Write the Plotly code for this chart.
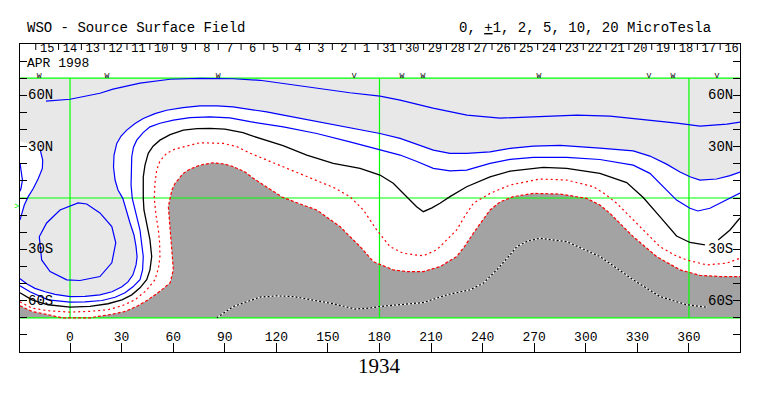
import plotly.graph_objects as go

# ---------------- data (Carrington longitude, latitude in degrees) ----------------
# +5 contour (top blue line)
pos5_lon = [-14.0, 0, 17.4, 25.0, 40.7, 58.2, 75.6, 94.8, 110.5, 126.2, 143.7, 162.8, 180.3, 192.0,
            211.1, 230.9, 250.1, 275.1, 294.9, 314.1, 337.3, 353.0, 366.4, 382.1, 389.7]
pos5_lat = [56.6, 57.7, 61.2, 63.6, 67.1, 69.4, 69.9, 69.7, 68.8, 66.5, 64.2, 61.5, 59.5, 57.2,
            52.5, 48.4, 46.7, 47.8, 48.4, 47.8, 45.5, 43.7, 42.0, 43.2, 44.3]

# +2 contour (outer blue, edge of light-grey region)
pos2_lon = [-29.1, -25, -20.4, -14.5, -8.7, 0, 8.7, 17.4, 24.4, 30.2, 33.7, 36.6, 38.4, 39, 38.4,
            37.2, 34.9, 32.6, 30.7, 27.9, 26.2, 25.3, 25.6, 27.2, 29.7, 33, 37.8, 42.6, 49.4, 56.2,
            65.7, 75.6, 85.5, 94.8, 104.7, 114.4, 124.1, 133.8, 143.5, 153, 162.8, 171.6, 180.3, 192,
            201.8, 211.3, 221, 230.7, 244.3, 256, 269.5, 285, 308.2, 327.6, 337.3, 347, 354.8, 360.6,
            366.4, 376.1, 383.9, 389.7]
pos2_lat = [-47.2, -50.2, -52.8, -54.8, -56.3, -57.6, -57.5, -56.6, -54.8, -51.9, -49, -44.9, -39.1,
            -34.4, -28.4, -21.6, -14.6, -7, -0.2, 4.7, 10.5, 18.1, 25.1, 31.9, 36.2, 39.7, 43.5, 46.5,
            49.3, 51.3, 52.8, 53.8, 53.8, 53.3, 51.9, 50.3, 48.4, 46.5, 44.5, 42.6, 40.7, 39.1, 37.7,
            34.8, 31.5, 28, 26.1, 26.1, 27, 29, 30.3, 30.7, 29.2, 27.5, 24.5, 19.8, 15.2, 12.4, 10.5,
            11.1, 13.1, 15.2]

# +1 contour
pos1_lon = [-29.1, -23.3, -12.8, -5.8, 0, 8.7, 18.6, 26.2, 32, 36.6, 40.7, 42.2, 42.6, 41.6, 40.7,
            38.4, 36.2, 35.5, 35.5, 35.9, 36.9, 38.8, 42.5, 46.5, 52.3, 60.1, 69.8, 81.4, 93, 104.7,
            124.1, 143.5, 162.8, 180.3, 192, 201.8, 211.3, 221, 230.7, 244.3, 256, 269.5, 288.9, 308.2,
            327.6, 337.3, 343.1, 352.8, 360.6, 365.2, 372.2, 380.9, 389.7]
pos1_lat = [-51.3, -54.8, -59.5, -60.4, -60.8, -60.7, -59.9, -58, -55.4, -51.9, -47.8, -42, -34.2,
            -26.2, -18.7, -9.3, -0.2, 7.6, 16.3, 24.1, 29.7, 33.8, 38.2, 41.6, 43.7, 45.5, 47, 47.4,
            46.8, 44.6, 41.6, 37.7, 32.8, 28, 25.1, 21.3, 17.3, 15.9, 16.3, 20.2, 22.6, 23.7, 23.7,
            22.5, 19.2, 14.4, 8.7, -1.2, -6, -7.6, -6, -1.7, 2.9]

# closed positive contour (oval near 0 deg)
oval_lon = [-17.9, -16.5, -11.6, -1.9, 5.8, 17.4, 24.3, 26.6, 24.3, 17.4, 9.7, 4.7, -5.8, -13.6, -17.9]
oval_lat = [-22.6, -36.2, -43, -47.8, -48.2, -45.9, -37.9, -26.2, -16.7, -8.7, -3.5, -2.9, -7, -14.6, -22.6]

# small contours at the left edge
arc_lon = [-29.1, -28.1, -27.7, -28.5, -29.1]
arc_lat = [20.4, 14.4, 10.5, 5.7, 3.9]
edge_lon = [-17.4, -15.9, -16.1, -18.4, -21.3, -24.3, -26.6, -28.5, -29.1]
edge_lat = [28.4, 22.2, 17.3, 11.5, 5.7, 0.8, -4.1, -9.9, -12.8]
patch_top_lon = [-29.1, -23.3]
patch_top_lat = [33.2, 31.5]

# neutral line (0)
zero_lon = [-29.1, -22.1, -12.8, 0, 11.6, 22.1, 30.2, 35.9, 40.7, 44.6, 46.5, 47.5, 46.5, 44.6, 43,
            42.6, 42.6, 42.6, 43.6, 45.5, 48.3, 52.3, 58.2, 65.9, 73.9, 81.4, 90.1, 100.6, 104.7,
            113.4, 123.9, 137.7, 153.1, 168.7, 180.3, 188, 195.8, 201.6, 205.5, 210.5, 215.2, 221,
            230.7, 244.3, 256, 261.7, 275.3, 288.9, 308.2, 323.8, 333.4, 343.1, 352.8, 360.6, 369.3,
            None, 377, 383.9, 389.7]
zero_lat = [-55.4, -59.5, -62.4, -63.8, -63.3, -61.8, -59.5, -56.6, -52.5, -47.8, -42, -34.2, -24.5,
            -14.8, -7, -0.2, 7.6, 12.4, 19.2, 26.1, 30.3, 33.8, 37, 39.7, 40.5, 40.7, 40.2, 38.2,
            36.7, 33.8, 30.6, 25.1, 20.2, 17.3, 13.4, 8.6, 0.8, -5.1, -8, -5.8, -3.1, 0.8, 6.6, 12.4,
            15.7, 16.3, 17.9, 17.3, 14.4, 9, 0.3, -10.9, -22.2, -26, -27.4,
            None, -24.5, -18.7, -11.7]

# -1 contour
neg1_lon = [-29.1, -22.3, -12.8, 0, 11.6, 22.1, 30.2, 37.8, 44.2, 49.4, 51.5, 52.3, 52.1, 51.4, 50,
            49, 49.4, 50.4, 52.3, 56.2, 61.1, 65.9, 75.6, 89.2, 97.1, 104.7, 124.1, 143.5, 154.1,
            162.8, 170.6, 178.4, 186.1, 193.8, 205.5, 213.3, 218.7, 224.9, 229.7, 234.6, 244.3, 256,
            273.4, 288.9, 304.4, 311.2, 318, 331.5, 343.1, 351.9, 358.7, 370.3, 381.9, 389.7]
neg1_lat = [-60.7, -64.3, -65.9, -66.7, -66.2, -65.3, -63, -59.5, -54.2, -47.8, -40.8, -34.2, -26.2,
            -18.7, -9.9, -0.2, 8.7, 16.3, 21.6, 26.1, 28.6, 29.9, 32.3, 31.9, 30, 26.2, 18.3, 10.5,
            5.8, 0.8, -7, -18.7, -28.4, -32.3, -33.8, -30.3, -25.1, -18.7, -10.5, -3.1, 2.7, 7.6,
            11.1, 10.5, 6.6, 2.3, -3.1, -16.7, -28.4, -33.5, -36.2, -39.1, -38.1, -35.2]

# -2 contour (edge of dark-grey region)
neg2_lon = [-29.1, -22.1, -12.8, -4.7, 2.9, 11.6, 16.3, 24.4, 32, 39.5, 45.4, 50, 53.3, 55.8, 58.2,
            60.1, 59.3, 58.7, 58.2, 57.2, 58.2, 59.3, 61.1, 65.9, 69.8, 75.6, 83.3, 90.1, 95, 101.8,
            106.6, 113.4, 123.3, 133.8, 143.5, 157, 168.7, 176.4, 188, 195.8, 205.5, 215.2, 224.9,
            229.7, 234.6, 244.3, 250.1, 257.8, 269.5, 285, 300.5, 308.2, 314, 327.6, 341.2, 354.8,
            366.4, 378, 389.7]
neg2_lat = [-63, -66.3, -68.2, -70, -70, -70, -69.2, -68, -66.3, -63, -59.5, -56.3, -53.7, -51.6,
            -49.6, -42, -30.3, -24.5, -18.7, -5.1, -0.2, 4.7, 8.6, 14.4, 16.9, 19.2, 20.6, 19.8, 18.3,
            15.2, 11.5, 7, 0.6, -3.5, -7, -16.7, -28.4, -37.2, -42, -43, -43, -40.1, -34.2, -28,
            -20.6, -7, -2.3, 0.8, 2.7, 2.3, -0.2, -4.1, -8.9, -22.6, -34.2, -42, -45.2, -45.9, -45.9]

# -5 contour (dotted, inside dark grey)
neg5_lon = [85.3, 95, 110.5, 120.2, 129.9, 141.5, 153.1, 165.8, 174.5, 180.3, 192, 205.5, 219.1,
            232.6, 240.4, 248.2, 256, 259.8, 266.4, 273.4, 288.9, 308.2, 327.6, 343.1, 358.7, 370.3]
neg5_lat = [-70, -63.4, -57.9, -57.2, -57.6, -59.5, -61.8, -64.9, -64.3, -63.4, -62.4, -61.1, -56.6,
            -53.7, -49.8, -42, -33.2, -28.4, -25.1, -23.5, -25.5, -34.2, -47.8, -57.6, -62.4, -63.8]

# top strip: calendar days (time runs right to left)
day_labels = ["15", "14", "13", "12", "11", "10", "9", "8", "7", "6", "5", "4", "3", "2", "1",
              "31", "30", "29", "28", "27", "26", "25", "24", "23", "22", "21", "20", "19", "18",
              "17", "16"]
day_first_lon = -13.3
day_step = 13.27
month_labels = ["APR 1998", "MAR 1998"]

# W / V markers above the map
mark_lon = [-18, 21.5, 86.1, 165.2, 193.1, 205.3, 272.8, 336.7, 350.7, 376.3]
mark_txt = ["W", "W", "W", "V", "W", "W", "W", "V", "W", "V"]

# axes
x_ticks = [0, 30, 60, 90, 120, 150, 180, 210, 240, 270, 300, 330, 360]
y_ticks = [-80, -70, -60, -50, -40, -30, -20, -10, 0, 10, 20, 30, 40, 50, 60, 70, 80]
lat_label_vals = [60, 30, -30, -60]
lat_label_txt = ["60N", "30N", "30S", "60S"]
grid_lons = [0, 180, 360]
grid_lats = [70, 0, -70]
rotation = "1934"
earth_lat = -5.5

# ---------------- figure ----------------
XMIN, XMAX = -29.1, 389.7
YMIN, YMAX = -90, 90
LAT_EDGE = 70
LIGHT = "#e8e8e8"
DARK = "#a3a3a3"
GREEN = "#00ff00"
BLUE = "#0000ff"
RED = "#ff0000"
MONO = "Liberation Mono, Courier New, monospace"
SERIF = "Liberation Serif, Times New Roman, serif"

fig = go.Figure()
fig.add_shape(type="rect", xref="x", yref="y", x0=XMIN, x1=XMAX, y0=-LAT_EDGE, y1=LAT_EDGE,
              fillcolor=LIGHT, line=dict(width=0), layer="below")


def poly(xs, ys, color):
    fig.add_trace(go.Scatter(x=xs, y=ys, mode="lines", fill="toself", fillcolor=color,
                             line=dict(width=0), hoverinfo="skip"))


def line(xs, ys, color, dash="solid", width=1.2):
    fig.add_trace(go.Scatter(x=xs, y=ys, mode="lines",
                             line=dict(color=color, width=width, dash=dash),
                             hoverinfo="skip"))


# fills
poly(pos2_lon + [XMAX, XMIN], pos2_lat + [-LAT_EDGE, -LAT_EDGE], "white")
poly(patch_top_lon + edge_lon + [patch_top_lon[0]], patch_top_lat + edge_lat + [patch_top_lat[0]], "white")
poly(neg2_lon + [XMAX, XMIN], neg2_lat + [-LAT_EDGE, -LAT_EDGE], DARK)

# green reference grid
gx, gy = [], []
for la in grid_lats:
    gx += [XMIN, XMAX, None]
    gy += [la, la, None]
for lo in grid_lons:
    gx += [lo, lo, None]
    gy += [-LAT_EDGE, LAT_EDGE, None]
line(gx, gy, GREEN, width=1.2)

# contours
line(pos5_lon, pos5_lat, BLUE)
line(pos2_lon, pos2_lat, BLUE)
line(pos1_lon, pos1_lat, BLUE)
line(oval_lon, oval_lat, BLUE)
line(arc_lon, arc_lat, BLUE)
line(edge_lon, edge_lat, BLUE)
line(zero_lon, zero_lat, "black", width=1.3)
line(neg1_lon, neg1_lat, RED, dash="2px,3px")
line(neg2_lon, neg2_lat, RED, dash="3px,2px")
line(neg5_lon, neg5_lat, "white", width=1.2)
line(neg5_lon, neg5_lat, "black", dash="2px,2px", width=1.2)

# day labels and ticks in top strip
day_lon = [day_first_lon + i * day_step for i in range(len(day_labels))]
fig.add_trace(go.Scatter(x=day_lon, y=[87.3] * len(day_lon), mode="text", text=day_labels,
                         textfont=dict(family=MONO, size=12, color="black"),
                         cliponaxis=False, hoverinfo="skip"))
tx, ty = [], []
for lo in day_lon:
    tx += [lo - day_step / 2, lo - day_step / 2, None]
    ty += [90, 86.5, None]
line(tx, ty, "black", width=1)

# month labels
fig.add_annotation(x=-25.6, y=78.6, xref="x", yref="y", text=month_labels[0], showarrow=False,
                   xanchor="left", yanchor="middle", borderpad=0,
                   font=dict(family=MONO, size=13, color="black"))
fig.add_annotation(x=XMAX + 0.6, y=78.6, xref="x", yref="y", text=month_labels[1], showarrow=False,
                   xanchor="right", yanchor="middle", borderpad=0,
                   font=dict(family=MONO, size=13, color="black"))

# W / V markers
fig.add_trace(go.Scatter(x=mark_lon, y=[71.5] * len(mark_lon), mode="text", text=mark_txt,
                         textfont=dict(family=MONO, size=8, color="black"),
                         cliponaxis=False, hoverinfo="skip"))

# latitude labels (both sides)
for v, t in zip(lat_label_vals, lat_label_txt):
    fig.add_annotation(x=-25.2, y=v, xref="x", yref="y", text=t, showarrow=False,
                       xanchor="left", yanchor="middle", borderpad=0,
                       font=dict(family=MONO, size=14, color="black"))
    fig.add_annotation(x=386.0, y=v, xref="x", yref="y", text=t, showarrow=False,
                       xanchor="right", yanchor="middle", borderpad=0,
                       font=dict(family=MONO, size=14, color="black"))

# longitude labels
fig.add_trace(go.Scatter(x=x_ticks, y=[-81.7] * len(x_ticks), mode="text",
                         text=[str(v) for v in x_ticks],
                         textfont=dict(family=MONO, size=13, color="black"),
                         cliponaxis=False, hoverinfo="skip"))

# rotation number
fig.add_annotation(x=180, y=-0.045, xref="x", yref="paper", text=rotation, showarrow=False,
                   xanchor="center", yanchor="middle", font=dict(family=SERIF, size=21, color="black"))

# Earth latitude marker
fig.add_annotation(x=-0.005, y=earth_lat, xref="paper", yref="y", text="&gt;", showarrow=False,
                   xanchor="center", yanchor="middle", font=dict(family=MONO, size=9, color=GREEN))

# titles
fig.add_annotation(x=0.0069, y=1.052, xref="paper", yref="paper", text="WSO - Source Surface Field",
                   showarrow=False, xanchor="left", yanchor="middle",
                   font=dict(family=MONO, size=14, color="black"))
fig.add_annotation(x=0.6065, y=1.052, xref="paper", yref="paper",
                   text="0, <u>+</u>1, 2, 5, 10, 20 MicroTesla",
                   showarrow=False, xanchor="left", yanchor="middle",
                   font=dict(family=MONO, size=14, color="black"))

# the page body adds an 8 px margin, so the figure is placed 8 px in from the corner
fig.update_layout(
    width=755, height=388,
    margin=dict(l=12, r=23, t=36, b=44),
    paper_bgcolor="white", plot_bgcolor="white",
    showlegend=False, hovermode=False,
    xaxis=dict(range=[XMIN, XMAX], showgrid=False, zeroline=False, showline=True,
               linecolor="black", linewidth=1, mirror=True, ticks="inside",
               tickvals=x_ticks, ticklen=9, tickcolor="black", tickwidth=1,
               showticklabels=False, fixedrange=True),
    yaxis=dict(range=[YMIN, YMAX], showgrid=False, zeroline=False, showline=True,
               linecolor="black", linewidth=1, mirror="ticks", ticks="inside",
               tickvals=y_ticks, ticklen=7, tickcolor="black", tickwidth=1,
               showticklabels=False, fixedrange=True),
)

fig.write_html("out.html")
